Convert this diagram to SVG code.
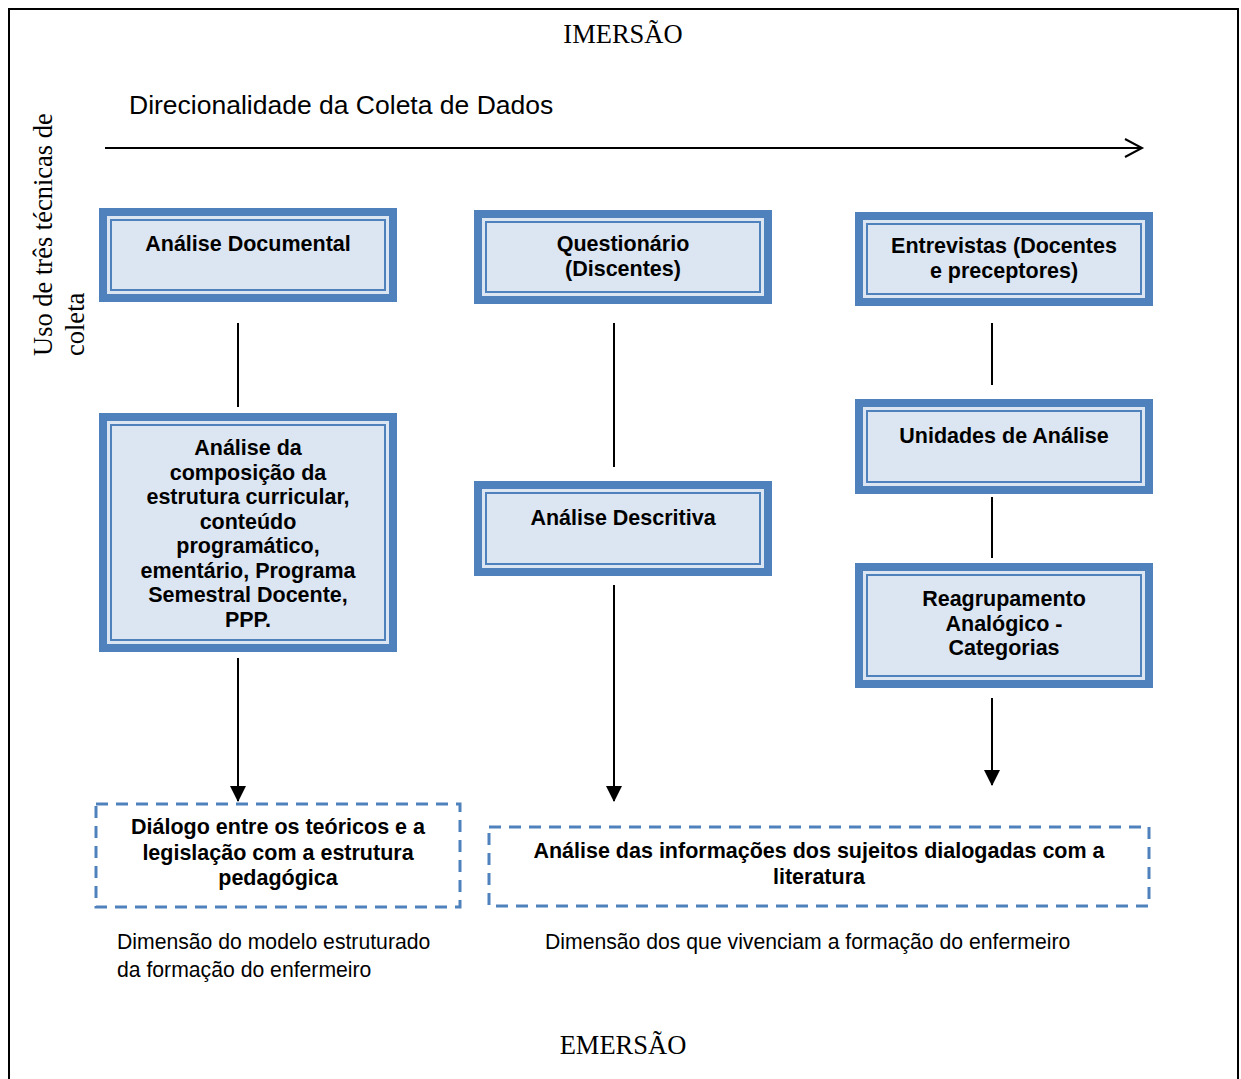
<svg xmlns="http://www.w3.org/2000/svg" width="1241" height="1079" viewBox="0 0 1241 1079">
<style>
.bt{font-family:"Liberation Sans",Arial,sans-serif;font-weight:bold;font-size:21.5px;fill:#000;text-anchor:middle}
.nt{font-family:"Liberation Sans",Arial,sans-serif;font-size:21.2px;fill:#000}
.tm{font-family:"Liberation Serif","Times New Roman",serif;font-size:26.5px;fill:#000}
.ob{fill:#4F81BD}
.gap{fill:#DCE6F2}
.in{fill:#DCE6F2;stroke:#4F81BD;stroke-width:2}
.ln{stroke:#000;stroke-width:2;fill:none}
.dash{fill:#fff;stroke:#4F81BD;stroke-width:3;stroke-dasharray:12 8}
</style>
<defs>
<marker id="ah" markerWidth="16" markerHeight="17" refX="15" refY="8" orient="auto" markerUnits="userSpaceOnUse">
<path d="M0,0 L16,8 L0,16 Z" fill="#000"/>
</marker>
</defs>
<rect x="0" y="0" width="1241" height="1079" fill="#fff"/>
<path d="M9,1085 L9,9 L1238,9 L1238,1085" fill="none" stroke="#000" stroke-width="2"/>

<text class="tm" x="623" y="43" text-anchor="middle">IMERSÃO</text>
<text class="tm" x="623" y="1054" text-anchor="middle">EMERSÃO</text>
<text class="tm" transform="translate(52,356) rotate(-90)">Uso de três técnicas de</text>
<text class="tm" transform="translate(84,356) rotate(-90)">coleta</text>
<text x="129" y="114" font-family="Liberation Sans,Arial,sans-serif" font-size="26.5" fill="#000">Direcionalidade da Coleta de Dados</text>

<g id="connectors">
<line class="ln" x1="105" y1="148" x2="1142" y2="148"/>
<polyline class="ln" points="1125,139 1142,148 1125,157"/>
<line class="ln" x1="238" y1="323" x2="238" y2="407"/>
<line class="ln" x1="238" y1="658" x2="238" y2="801" marker-end="url(#ah)"/>
<line class="ln" x1="614" y1="323" x2="614" y2="467"/>
<line class="ln" x1="614" y1="585" x2="614" y2="801" marker-end="url(#ah)"/>
<line class="ln" x1="992" y1="323" x2="992" y2="385"/>
<line class="ln" x1="992" y1="497" x2="992" y2="558"/>
<line class="ln" x1="992" y1="698" x2="992" y2="785" marker-end="url(#ah)"/>
</g>

<g id="n-doc">
<rect class="ob" x="99" y="208" width="298" height="94"/>
<rect class="gap" x="107" y="216" width="282" height="78"/>
<rect class="in" x="111" y="220" width="274" height="70"/>
<text class="bt" x="248" y="251">Análise Documental</text>
</g>

<g id="n-quest">
<rect class="ob" x="474" y="210" width="298" height="94"/>
<rect class="gap" x="482" y="218" width="282" height="78"/>
<rect class="in" x="486" y="222" width="274" height="70"/>
<text class="bt" x="623" y="251">Questionário</text>
<text class="bt" x="623" y="276">(Discentes)</text>
</g>

<g id="n-entrev">
<rect class="ob" x="855" y="212" width="298" height="94"/>
<rect class="gap" x="863" y="220" width="282" height="78"/>
<rect class="in" x="867" y="224" width="274" height="70"/>
<text class="bt" x="1004" y="253">Entrevistas (Docentes</text>
<text class="bt" x="1004" y="278">e preceptores)</text>
</g>

<g id="n-comp">
<rect class="ob" x="99" y="413" width="298" height="239"/>
<rect class="gap" x="107" y="421" width="282" height="223"/>
<rect class="in" x="111" y="425" width="274" height="215"/>
<text class="bt" x="248" y="455">Análise da</text>
<text class="bt" x="248" y="479.5">composição da</text>
<text class="bt" x="248" y="504">estrutura curricular,</text>
<text class="bt" x="248" y="528.5">conteúdo</text>
<text class="bt" x="248" y="553">programático,</text>
<text class="bt" x="248" y="577.5">ementário, Programa</text>
<text class="bt" x="248" y="602">Semestral Docente,</text>
<text class="bt" x="248" y="626.5">PPP.</text>
</g>

<g id="n-descr">
<rect class="ob" x="474" y="481" width="298" height="95"/>
<rect class="gap" x="482" y="489" width="282" height="79"/>
<rect class="in" x="486" y="493" width="274" height="71"/>
<text class="bt" x="623" y="525">Análise Descritiva</text>
</g>

<g id="n-unid">
<rect class="ob" x="855" y="399" width="298" height="95"/>
<rect class="gap" x="863" y="407" width="282" height="79"/>
<rect class="in" x="867" y="411" width="274" height="71"/>
<text class="bt" x="1004" y="443">Unidades de Análise</text>
</g>

<g id="n-reagr">
<rect class="ob" x="855" y="563" width="298" height="125"/>
<rect class="gap" x="863" y="571" width="282" height="109"/>
<rect class="in" x="867" y="575" width="274" height="101"/>
<text class="bt" x="1004" y="606">Reagrupamento</text>
<text class="bt" x="1004" y="630.5">Analógico -</text>
<text class="bt" x="1004" y="655">Categorias</text>
</g>

<g id="n-dialogo">
<rect class="dash" x="96" y="804" width="364" height="103"/>
<text class="bt" x="278" y="834">Diálogo entre os teóricos e a</text>
<text class="bt" x="278" y="859.5">legislação com a estrutura</text>
<text class="bt" x="278" y="885">pedagógica</text>
</g>

<g id="n-analise-info">
<rect class="dash" x="489" y="827" width="660" height="79"/>
<text class="bt" x="819" y="858">Análise das informações dos sujeitos dialogadas com a</text>
<text class="bt" x="819" y="883.5">literatura</text>
</g>

<text class="nt" x="117" y="949">Dimensão do modelo estruturado</text>
<text class="nt" x="117" y="977">da formação do enfermeiro</text>
<text class="nt" x="545" y="949">Dimensão dos que vivenciam a formação do enfermeiro</text>
</svg>
